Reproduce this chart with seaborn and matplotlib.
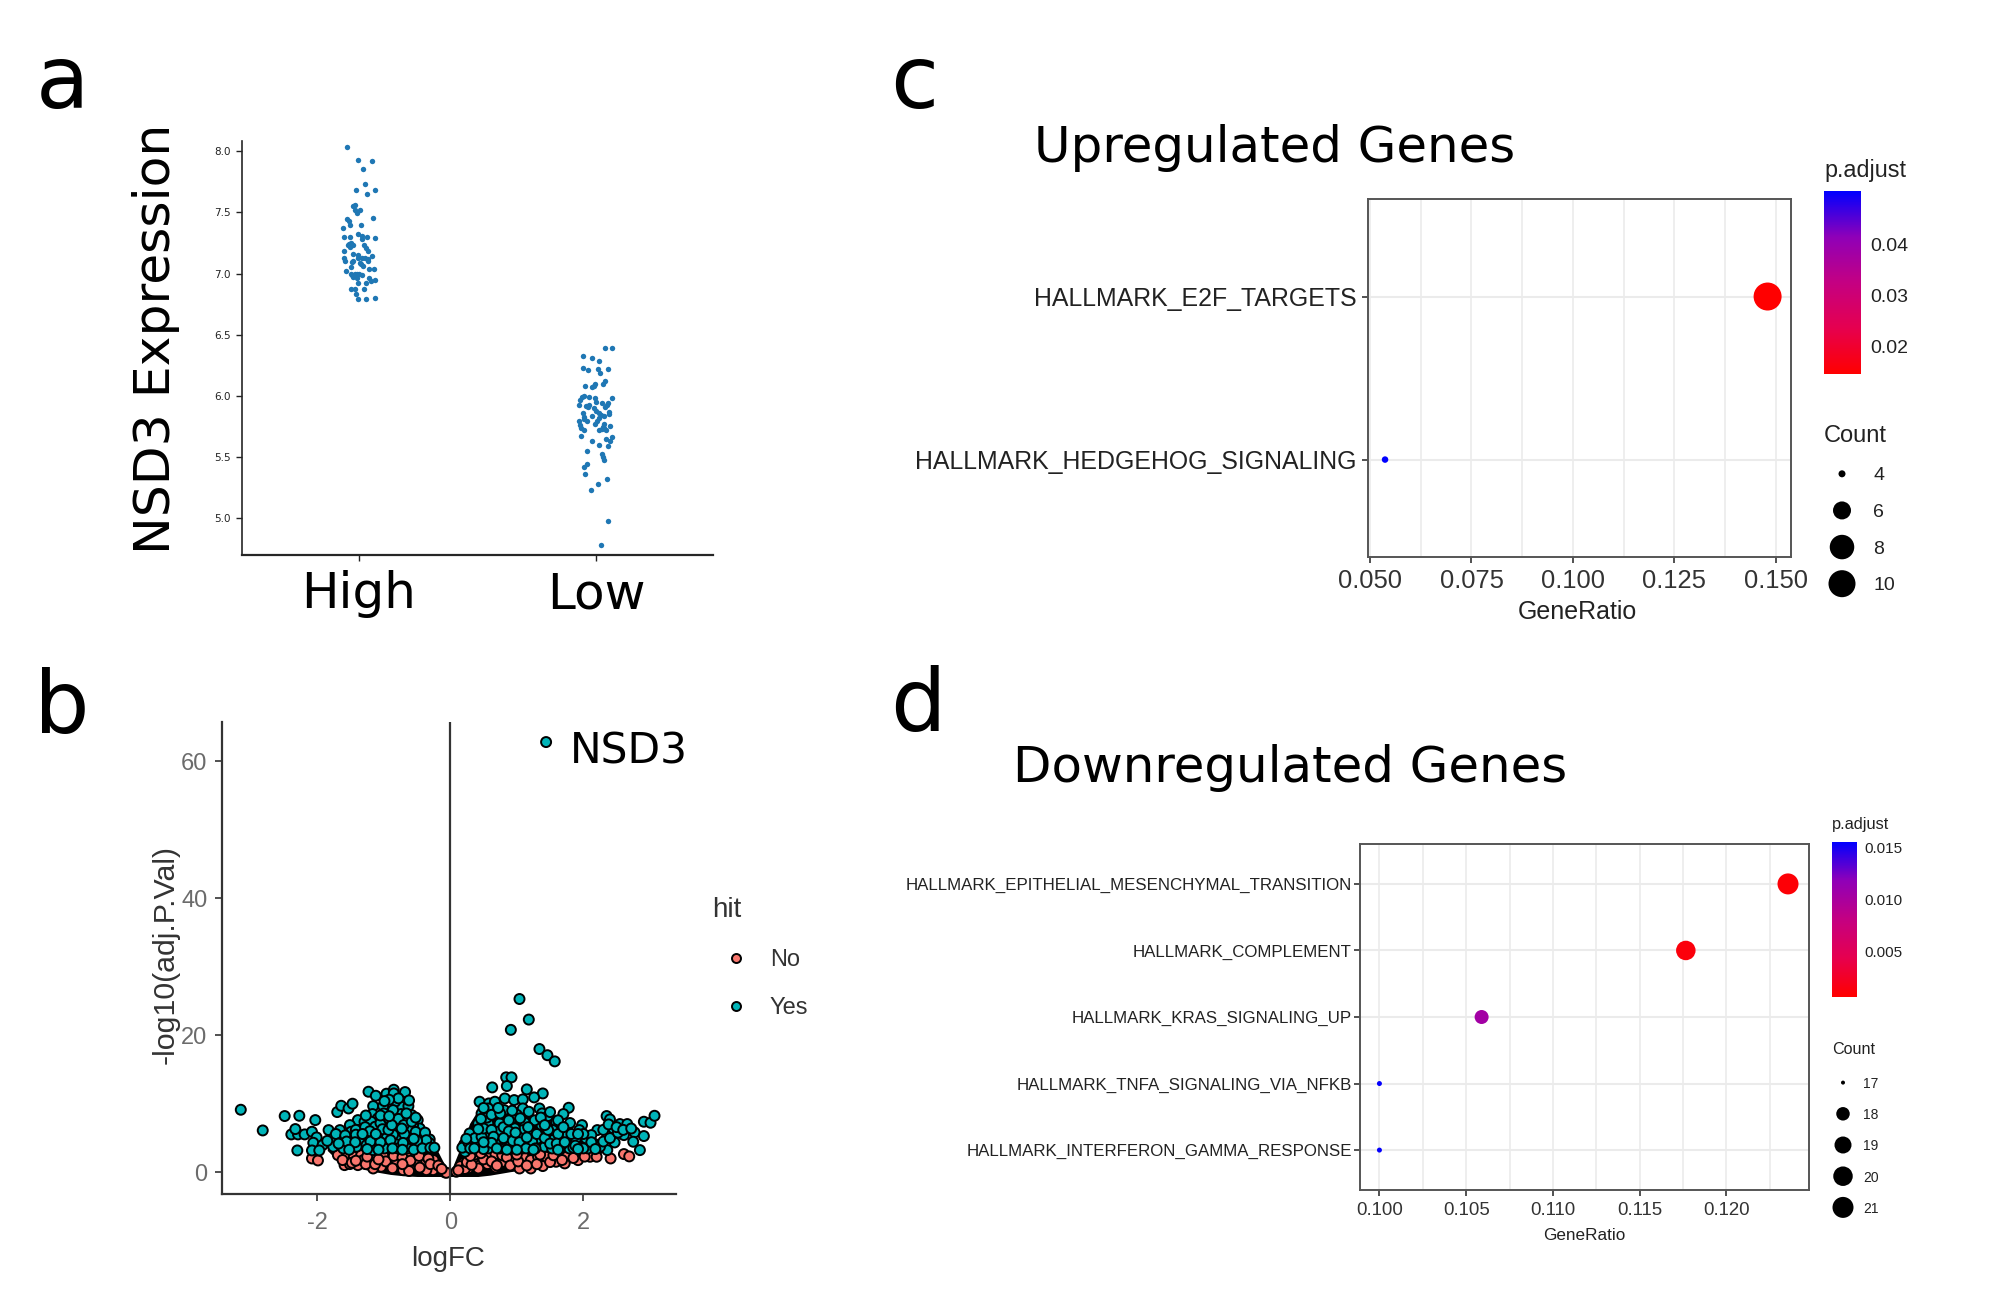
import numpy as np
import pandas as pd
import matplotlib
matplotlib.use("Agg")
import matplotlib.pyplot as plt
import seaborn as sns
from matplotlib.colors import LinearSegmentedColormap, Normalize
from matplotlib.cm import ScalarMappable
from matplotlib.transforms import ScaledTranslation

# panel a: NSD3 expression, jitter is the horizontal offset from the group centre
high_expr = [8.03, 7.93, 7.92, 7.85, 7.73, 7.68, 7.68, 7.65, 7.56, 7.55, 7.52, 7.52, 7.49, 7.45, 7.445, 7.43, 7.40, 7.375,
             7.40, 7.32, 7.31, 7.30, 7.30, 7.28, 7.30, 7.29, 7.24, 7.25, 7.23, 7.22, 7.23, 7.23, 7.21, 7.18, 7.18, 7.16,
             7.15, 7.13, 7.13, 7.13, 7.14, 7.12, 7.125, 7.105, 7.105, 7.10, 7.09, 7.085, 7.08, 7.06, 7.05, 7.04, 7.035,
             7.02, 7.00, 6.99, 7.00, 6.995, 6.995, 6.99, 6.97, 6.965, 6.96, 6.94, 6.95, 6.925, 6.92, 6.87, 6.87, 6.87,
             6.83, 6.79, 6.79, 6.80]
high_jitter = [-.051, -.004, .054, .017, .027, -.013, .069, .032, -.015, -.025, -.018, .006, -.007, .059, -.049, -.044, -.038, -.069,
               .010, -.004, .011, -.063, -.037, .013, .035, .069, -.042, -.032, -.025, -.037, -.046, .021, .030, .037, -.065, -.027,
               -.006, -.003, .011, .027, .056, .037, -.065, -.061, .039, -.025, -.030, .003, .010, .017, -.035, .062, .041,
               -.054, -.035, -.028, -.018, -.008, 0, .014, -.025, -.008, .044, .051, .069, .028, -.003, -.035, -.017, .020,
               -.014, -.006, .030, .068]
low_expr = [6.39, 6.39, 6.33, 6.31, 6.285, 6.23, 6.21, 6.22, 6.22, 6.19, 6.12, 6.10, 6.10, 6.085, 6.07, 6.08, 5.98, 6.00, 5.995,
            5.97, 5.99, 5.985, 5.95, 5.945, 5.945, 5.93, 5.91, 5.93, 5.92, 5.93, 5.91, 5.905, 5.88, 5.86, 5.86, 5.87, 5.85, 5.84,
            5.845, 5.84, 5.83, 5.82, 5.80, 5.80, 5.81, 5.80, 5.775, 5.77, 5.75, 5.755, 5.76, 5.74, 5.725, 5.725, 5.73, 5.72, 5.74,
            5.675, 5.63, 5.65, 5.665, 5.63, 5.60, 5.59, 5.55, 5.53, 5.505, 5.48, 5.445, 5.42, 5.36, 5.32, 5.28, 5.23, 4.98, 4.78]
low_jitter = [.038, .069, -.055, -.018, .011, -.055, -.034, .010, .052, .017, .038, .028, -.003, -.008, -.015, -.048, .069, -.051, -.061,
              -.066, -.031, -.006, 0, .025, .051, .045, .039, -.070, -.042, -.028, -.035, -.008, .001, .011, -.054, .056, .054, .034,
              .021, -.018, -.051, .011, -.039, -.070, -.051, .006, -.003, .034, .028, .059, -.068, -.065, -.052, .011, .025, .042, .034,
              -.063, -.018, .041, .068, .061, .014, .051, -.037, .024, .028, .035, -.037, -.052, -.046, .046, .008, -.023, .049, .021]
groups = ["High", "Low"]
expr_ticks = [5.0, 5.5, 6.0, 6.5, 7.0, 7.5, 8.0]

# panel b: volcano plot, the genes that can be told apart
yes_logfc = [1.44, 1.04, 1.18, .91, 1.34, 1.46, 1.57, .84, .92, .85, .63,
             -3.15, -2.82, -2.49, -2.27, -2.03, -2.30, -2.39, -2.29, -2.19, -2.33, -2.08, -2.01, -2.06, -1.92, -2.08, -1.97,
             -1.70, -1.64, -1.53, -1.47, -1.23, -1.12, -.96, -.85, -.68, -.85, -1.16, -1.01, -1.17, -.74, -.63, -.83, -.58,
             -.74, -.86, -1.00, -1.09, -1.39, -1.29, -1.19, -1.51, -1.66, -1.83, -1.13, -.96, -.82, -.66, -.49, -.46, -.56,
             -1.76, -1.64, -1.49, -1.35, -1.26, -1.15, -.96, -.80, -.62, -.31, -.44, -1.51, -1.36, -1.09, -.76, -.61, -.41,
             -1.76, -1.61, -1.49, -1.34, -1.26, -1.16, -.96, -.81, -.64, -.79, -.99, -1.41, -.49, -.31,
             1.15, 1.39, .44, .58, .67, .82, .96, 1.09, 1.26, .81, .67, .47, .57, 1.09, 1.18, 1.34, 1.38, 1.78, 1.70, 1.47, .94,
             1.12, .42, .57, .74, 1.59, 1.76, 1.98, 2.35, 2.40, 2.55, 2.66, 2.91, 3.01, 3.07, 2.77, 2.91, 2.75, 2.85, 2.61, 2.47,
             2.36, 2.45, 2.21, 2.36, 2.25, 2.07, 2.04, 1.89, 1.94, 1.76, 1.79, 1.57, 1.54, 1.37, 1.32, 1.21, 1.09, .97, 1.02,
             .84, .72, .44, .54, .59, .77, .89, .99, 1.09, 1.23, 1.42, 1.53, 1.67, .21, .33, .22, .32, .29, .42, .74, .57, 2.12,
             -1.85, -1.72, -1.58, -1.42, -1.28, -1.05, -.93, -.78, -.70, -.58, -.52, -.38, -.36, -.50, -.69, -.86, -1.02, -1.21,
             -1.42, -1.56, -1.68, -1.43, -1.20, -1.05, -.90, -.71, -.55, -.87, -1.08, -1.25, -1.52, -.72, -.55, -.42, -.93, -.73,
             -.88, -1.05, -.92, -.66, -.52, -.62, -.78, -.92, -1.27, -.99, -1.32, -1.12, -.30, -.24,
             .18, .27, .30, .37, .47, .50, .62, .65, .62, .50, .80, .88, .80, .94, 1.04, 1.15, 1.14, 1.28, 1.30, 1.42, 1.47, 1.62,
             1.50, 1.60, 1.72, 1.82, 1.85, 2.00, 2.00, 2.12, 2.18, 2.30, 2.30, 2.40, 2.52, 2.38, 2.50, 2.60, 2.72, 1.62, 1.50, 1.27,
             1.36, 1.00, .88, .55, .46, .62, .75, .93, .72, .50, 1.17, 1.80, 1.92, 1.88, 1.70, .42, .24, 1.05, .98, .70, .85, 1.00,
             1.25, 1.62, 1.92, 1.42, .36, .50]
yes_logp = [62.8, 25.3, 22.3, 20.8, 18.0, 17.1, 16.2, 13.87, 13.87, 12.6, 12.4,
            9.14, 6.12, 8.22, 8.26, 7.63, 3.20, 5.54, 5.54, 5.54, 6.32, 5.93, 5.10, 4.32, 3.98, 3.20, 3.20,
            8.80, 9.72, 9.33, 10.02, 11.77, 11.18, 11.48, 12.06, 11.72, 11.52, 9.67, 9.67, 8.51, 9.58, 9.67, 10.31, 8.36,
            8.51, 9.09, 8.60, 7.87, 7.63, 7.39, 7.39, 6.90, 6.17, 6.17, 6.66, 6.90, 7.15, 7.63, 7.63, 6.41, 6.90,
            4.96, 4.71, 5.93, 6.17, 5.20, 4.96, 5.30, 5.93, 4.81, 4.81, 5.44, 4.96, 4.96, 5.68, 4.96, 6.17, 4.25,
            3.74, 3.49, 3.98, 4.25, 3.98, 3.25, 3.98, 4.08, 3.49, 3.49, 3.49, 3.74, 3.98, 4.25,
            12.11, 11.52, 10.31, 10.06, 10.31, 10.79, 10.55, 10.65, 10.94, 9.09, 8.60, 8.60, 9.33, 9.33, 8.85, 9.33, 8.60, 9.43, 8.51, 8.22, 7.97,
            7.24, 7.15, 7.15, 7.15, 7.39, 6.66, 6.90, 8.22, 7.73, 7.05, 7.05, 7.39, 7.24, 8.26, 5.83, 5.30, 4.47, 3.25, 5.44, 4.37,
            5.54, 6.42, 6.17, 3.25, 3.74, 3.49, 4.96, 4.96, 6.17, 5.44, 3.49, 4.96, 6.17, 6.90, 4.96, 5.68, 6.17, 6.42, 5.20,
            5.68, 5.93, 5.93, 5.44, 4.47, 4.37, 3.74, 3.74, 3.49, 4.47, 3.74, 3.49, 3.98, 4.09, 4.09, 3.01, 5.20, 5.68, 4.71, 3.49, 3.49, 5.44,
            4.6, 5.6, 5.4, 6.2, 6.6, 7.2, 7.9, 7.8, 6.9, 7.4, 5.9, 5.8, 4.7, 4.6, 5.6, 5.5, 6.3, 6.0,
            5.5, 4.5, 4.2, 4.4, 4.5, 4.4, 4.7, 4.3, 4.9, 3.5, 3.3, 3.4, 3.3, 3.3, 3.3, 3.5, 6.2, 6.4,
            6.9, 8.3, 8.2, 8.6, 8.0, 10.5, 10.8, 10.6, 8.3, 10.4, 5.6, 5.6, 3.6, 3.6,
            3.6, 4.4, 3.5, 5.0, 5.2, 6.4, 6.2, 5.2, 4.3, 3.4, 6.6, 6.0, 5.0, 4.6, 4.4, 5.1, 3.5, 3.5, 5.6, 5.0, 6.2, 5.6,
            4.2, 4.2, 4.4, 5.6, 3.6, 3.5, 5.6, 4.4, 3.4, 4.5, 6.2, 5.0, 5.8, 7.0, 6.6, 6.2, 6.4, 7.6, 8.8, 7.6,
            8.0, 8.4, 7.6, 8.0, 7.8, 8.4, 8.6, 9.0, 9.4, 9.4, 6.6, 7.2, 5.6, 3.9, 6.6, 6.3, 4.9, 7.9, 5.8, 3.5, 3.3, 3.3,
            3.3, 3.3, 3.4, 6.9, 3.5, 4.4]
no_logfc = [-2.08, -1.99, -1.69, -1.56, -1.45, -1.34, -1.16, -1.01, -.79, -.65, -.51, -.41, -1.59, -1.39, -1.21, -1.04, -.91, -.79,
            -.59, -.41, -.26, -.08, -.25, -1.16, -1.51, -.71, -.36, -.81, -.51, -1.31,
            -.06, .09, .19, .42, .56, .68, .56, .68, .94, 1.10, 1.21, 1.21, 1.39, 1.44, 1.59, 1.75, 1.92, 2.10, 2.20, 2.41, 2.61, 2.69,
            .42, .27, .15, 1.04, .79, 1.32, 1.72, .34, 1.92,
            -1.62, -1.48, -1.27, -1.13, -.97, -.85, -.72, -.60, -.47, -.33, -.30, -.46, -.62, -.72, -.87, -1.08, -1.25, -1.42, -.18, -.13,
            .22, .25, .32, .37, .50, .46, .62, .78, .85, .90, 1.02, 1.15, 1.00, 1.30, 1.35, 1.50, 1.55, 1.68, 1.85, 2.02, .12, .70, .30]
no_logp = [2.03, 1.74, 2.52, 2.18, 2.28, 2.52, 2.03, 2.52, 2.18, 2.52, 2.52, 1.79, 1.06, 1.06, 1.31, .82, 1.55, .82,
           .92, 1.21, .33, 0, 1.79, .57, 1.21, .33, .33, 1.79, 1.55, 1.79,
           -.06, .09, 1.31, 1.45, 2.38, 2.67, 1.21, .72, 1.79, 2.38, 1.79, .57, .92, 2.28, 1.55, 2.28, 2.62, 2.28, 2.28, 2.03, 2.67, 2.33,
           .57, .57, .9, .57, 1.55, 2.28, 1.31, 2.03, 1.79,
           1.8, 1.4, 1.2, 1.2, 1.6, 2.4, 2.2, 1.7, 2.4, 2.0, 1.2, .7, .2, 1.2, .6, 1.9, 2.3, 1.7, 1.0, .5,
           .5, 1.5, 1.1, 2.6, 1.9, 2.8, 1.6, 2.5, 2.2, 1.0, 1.6, 1.0, 2.6, 1.2, 2.6, 1.5, 2.5, 1.8, 2.1, 2.3, .3, 1.0, 2.4]
# where the thousands of overlapping black outlines merge into one mass
mass_left_x = [-1.85, -1.66, -1.5, -1.2, -.9, -.7, -.5, -.31, -.11, 0]
mass_left_top = [4.0, 5.5, 6.5, 7.5, 8.5, 10.0, 8.4, 5.4, 1.6, 0]
mass_left_bottom = [3.2, 1.4, 1.0, .2, -.3, -.5, -.6, -.6, -.6, -.6]
mass_right_x = [0, .115, .21, .29, .415, .6, .9, 1.2, 1.5, 1.8, 2.1, 2.3]
mass_right_top = [0, 2.76, 4.96, 7.15, 9.1, 9.5, 9.0, 8.5, 7.5, 6.5, 5.5, 4.5]
mass_right_bottom = [-.6, -.6, -.6, -.6, -.6, -.4, .1, .5, .9, 1.4, 1.8, 3.0]

# panel c: upregulated gene sets
up_terms = ["HALLMARK_E2F_TARGETS", "HALLMARK_HEDGEHOG_SIGNALING"]
up_ratio = [0.148, 0.0537]
up_padj = [0.0146, 0.0505]
up_count = [10, 4]
up_key_counts = ["4", "6", "8", "10"]
up_key_diam = [7, 18, 24.5, 27]
up_ticks = [0.050, 0.075, 0.100, 0.125, 0.150]
up_minor = [0.0625, 0.0875, 0.1125, 0.1375]

# panel d: downregulated gene sets
down_terms = ["HALLMARK_EPITHELIAL_MESENCHYMAL_TRANSITION", "HALLMARK_COMPLEMENT", "HALLMARK_KRAS_SIGNALING_UP",
              "HALLMARK_TNFA_SIGNALING_VIA_NFKB", "HALLMARK_INTERFERON_GAMMA_RESPONSE"]
down_ratio = [0.12355, 0.11766, 0.10589, 0.100, 0.100]
down_padj = [0.00095, 0.0012, 0.0105, 0.0155, 0.0155]
down_count = [21, 20, 18, 17, 17]
down_key_counts = ["17", "18", "19", "20", "21"]
down_key_diam = [4, 13.5, 17, 19.5, 21]
down_ticks = [0.100, 0.105, 0.110, 0.115, 0.120]
down_minor = [0.1025, 0.1075, 0.1125, 0.1175, 0.1225]

W, H = 1994, 1309
sns.set_style("ticks")
plt.rcParams["font.family"] = ["Liberation Sans", "DejaVu Sans"]
plt.rcParams["axes.unicode_minus"] = False
plt.rcParams["text.color"] = "black"
DEJAVU = "DejaVu Sans"
fig = plt.figure(figsize=(W / 100, H / 100), dpi=100)
red_blue = LinearSegmentedColormap.from_list("padj", ["#ff0000", "#e6004f", "#c40082", "#8f00b8", "#0000ff"])


def add_ax(left, top, right, bottom):
    return fig.add_axes([left / W, 1 - bottom / H, (right - left) / W, (bottom - top) / H])


def area(diam_px):
    return (diam_px * 0.72) ** 2


def dotplot(box, terms, ratio, padj, count, diam, xlim, ticks, minor, norm, label_size, tick_size, title_size, xlabel_xy, tick_pad):
    ax = add_ax(*box)
    df = pd.DataFrame({"ratio": ratio, "term": terms, "padj": padj, "count": count})
    for t in range(len(terms)):
        ax.axhline(t, color="#ebebeb", lw=1.5, zorder=0)
    sns.scatterplot(data=df, x="ratio", y="term", hue="padj", hue_norm=norm, palette=red_blue, size="count",
                    sizes=diam, linewidth=0, legend=False, ax=ax, zorder=3)
    ax.set_xlim(*xlim)
    ax.set_ylim(len(terms) - 0.4, -0.6)
    ax.set_xticks(ticks)
    ax.set_xticklabels([f"{t:.3f}" for t in ticks], fontsize=tick_size, color="#333333")
    ax.set_xticks(minor, minor=True)
    ax.tick_params(axis="x", which="minor", length=0)
    ax.set_axisbelow(True)
    ax.grid(axis="x", which="both", color="#ebebeb", lw=1.2)
    ax.tick_params(axis="both", which="major", length=4, width=1.2, color="#333333", pad=4.6)
    ax.tick_params(axis="y", which="major", pad=tick_pad)
    for lab in ax.get_yticklabels():
        lab.set_fontsize(label_size)
        lab.set_color("#222222")
    ax.set_ylabel("")
    ax.set_xlabel("GeneRatio", fontsize=title_size, color="#222222")
    ax.xaxis.set_label_coords((xlabel_xy[0] - box[0]) / (box[2] - box[0]), -(xlabel_xy[1] - box[3]) / (box[3] - box[1]), ax.transAxes)
    ax.xaxis.label.set_va("center")
    for sp in ax.spines.values():
        sp.set_visible(True)
        sp.set_color("#555555")
        sp.set_linewidth(1.4)
    return ax


def colour_key(box, norm, ticks, fmt, title, title_xy, title_size, tick_size, pad):
    cax = add_ax(*box)
    cb = fig.colorbar(ScalarMappable(norm=norm, cmap=red_blue), cax=cax)
    cb.outline.set_visible(False)
    cb.set_ticks(ticks)
    cb.set_ticklabels([fmt % t for t in ticks], fontsize=tick_size, color="#222222")
    cax.tick_params(axis="y", direction="in", color="white", width=1.2, left=True, right=True,
                    length=(box[2] - box[0]) * 0.144, pad=pad)
    fig.text(title_xy[0] / W, 1 - title_xy[1] / H, title, fontsize=title_size, va="center", color="#222222")


def count_key(box, counts, diam, title, title_xy, title_size, tick_size, pad):
    kax = add_ax(*box)
    kdf = pd.DataFrame({"x": [0] * len(counts), "count": counts, "s": [area(d) for d in diam]})
    kax.scatter(kdf["x"], kdf["count"], s=kdf["s"], color="black", linewidth=0)
    kax.set_ylim(len(counts) - 0.5, -0.5)
    kax.set_xlim(-1, 1)
    kax.set_xticks([])
    sns.despine(ax=kax, left=True, bottom=True)
    kax.tick_params(axis="y", length=0, left=False, right=False, labelleft=False, labelright=True, pad=pad)
    for lab in kax.get_yticklabels():
        lab.set_fontsize(tick_size)
        lab.set_color("#222222")
    fig.text(title_xy[0] / W, 1 - title_xy[1] / H, title, fontsize=title_size, va="center", color="#222222")


# panel letters
for letter, lx, ly in [("a", 36, 108), ("b", 34, 733), ("c", 890, 108), ("d", 890, 731)]:
    fig.text(lx / W, 1 - ly / H, letter, family=DEJAVU, fontsize=63, va="baseline", color="black")

# a
ax_a = add_ax(241.5, 140.6, 713, 555)
expr_df = pd.DataFrame({"pos": list(np.array(high_jitter)) + list(1 + np.array(low_jitter)), "expr": high_expr + low_expr})
sns.scatterplot(data=expr_df, x="pos", y="expr", color="#1f77b4", s=area(5.4), linewidth=0, ax=ax_a)
ax_a.set_xlim(-0.496, 1.494)
ax_a.set_ylim(4.702, 8.085)
ax_a.set_xticks([0, 1])
ax_a.set_xticklabels(groups, family=DEJAVU, fontsize=36, color="black")
low_label = ax_a.get_xticklabels()[1]
low_label.set_transform(low_label.get_transform() + ScaledTranslation(8 / 100, 0, fig.dpi_scale_trans))
ax_a.set_yticks(expr_ticks)
ax_a.set_yticklabels([f"{t:.1f}" for t in expr_ticks], family=DEJAVU, fontsize=7.5, color="#222222")
ax_a.tick_params(axis="both", length=4, width=1, color="#222222")
ax_a.tick_params(axis="x", pad=7)
ax_a.set_xlabel("")
ax_a.set_ylabel("")
sns.despine(ax=ax_a)
ax_a.spines["left"].set_linewidth(1.2)
ax_a.spines["bottom"].set_linewidth(1.6)
fig.text(156 / W, 1 - 339 / H, "NSD3 Expression", family=DEJAVU, fontsize=36.3, rotation=90, ha="center", va="center")

# b
ax_b = add_ax(221.5, 721.5, 675.8, 1194.3)
volcano = pd.DataFrame({"logFC": no_logfc + yes_logfc, "logp": no_logp + yes_logp,
                        "hit": ["No"] * len(no_logfc) + ["Yes"] * len(yes_logfc)})
ax_b.fill_between(mass_left_x, mass_left_bottom, mass_left_top, color="black", lw=0, zorder=1)
ax_b.fill_between(mass_right_x, mass_right_bottom, mass_right_top, color="black", lw=0, zorder=1)
sns.scatterplot(data=volcano, x="logFC", y="logp", hue="hit", hue_order=["No", "Yes"],
                palette={"No": "#f8766d", "Yes": "#00b4b8"}, s=area(10), edgecolor="black", linewidth=1.4, ax=ax_b, zorder=2)
ax_b.axvline(0, color="#333333", lw=1.6, zorder=5)
ax_b.set_xlim(-3.44, 3.39)
ax_b.set_ylim(-3.2, 65.8)
ax_b.set_xticks([-2, 0, 2])
ax_b.set_yticks([0, 20, 40, 60])
ax_b.tick_params(axis="both", length=5, width=1.2, color="#333333", labelsize=17, labelcolor="#6b6b6b", pad=5)
ax_b.tick_params(axis="x", pad=8)
ax_b.set_xlabel("logFC", fontsize=20, color="#333333")
ax_b.set_ylabel("-log10(adj.P.Val)", fontsize=21.9, color="#333333")
ax_b.xaxis.set_label_coords(0.5 - 1 / 454, -(1259 - 1194.3) / 472.8, ax_b.transAxes)
ax_b.xaxis.label.set_va("center")
ax_b.yaxis.set_label_coords((166 - 221.5) / 454.3, 0.5 + 3 / 472.8, ax_b.transAxes)
ax_b.yaxis.label.set_va("center")
sns.despine(ax=ax_b)
for side in ("left", "bottom"):
    ax_b.spines[side].set_linewidth(1.6)
    ax_b.spines[side].set_color("#333333")
fig.text(629 / W, 1 - 752 / H, "NSD3", family=DEJAVU, fontsize=30.5, ha="center", va="center")
sns.move_legend(ax_b, "upper left", bbox_to_anchor=((712 - 221.5) / 454.3, (1194.3 - 897) / 472.8), frameon=False,
                title="hit", fontsize=17, title_fontsize=20, labelspacing=1.1, handletextpad=0.45, markerscale=0.9,
                borderaxespad=0, borderpad=0, alignment="left")
ax_b.get_legend().get_title().set_color("#333333")
for txt in ax_b.get_legend().get_texts():
    txt.set_color("#333333")

# c
norm_up = Normalize(0.01455, 0.0506)
dotplot((1367.6, 198.7, 1791, 557.4), up_terms, up_ratio, up_padj, up_count, {10: area(28), 4: area(6.5)},
        (0.0494, 0.15377), up_ticks, up_minor, norm_up, 17.9, 18.4, 18, (1577, 612.5), 4)
colour_key((1824, 191, 1861, 374), norm_up, [0.02, 0.03, 0.04], "%.2f", "p.adjust", (1824, 171), 16.8, 14, 7)
count_key((1822, 455.5, 1862, 602), up_key_counts, up_key_diam, "Count", (1824, 436), 17, 14, 8)
fig.text(1275 / W, 1 - 148.5 / H, "Upregulated Genes", family=DEJAVU, fontsize=35.9, ha="center", va="center")

# d
norm_down = Normalize(0.00062, 0.01562)
dotplot((1360, 844, 1809, 1190), down_terms, down_ratio, down_padj, down_count,
        {21: area(21), 20: area(19.5), 18: area(14), 17: area(5)},
        (0.09888, 0.12476), down_ticks, down_minor, norm_down, 12.2, 13.4, 12.3, (1584, 1235), 2)
colour_key((1832, 841.5, 1857, 996.5), norm_down, [0.005, 0.010, 0.015], "%.3f", "p.adjust", (1832, 825), 11.8, 11, 5.5)
count_key((1829, 1067, 1857, 1223), down_key_counts, down_key_diam, "Count", (1832, 1049), 11.6, 10, 4.5)
fig.text(1290 / W, 1 - 768 / H, "Downregulated Genes", family=DEJAVU, fontsize=35.9, ha="center", va="center")

fig.savefig("out.png", dpi=100)
